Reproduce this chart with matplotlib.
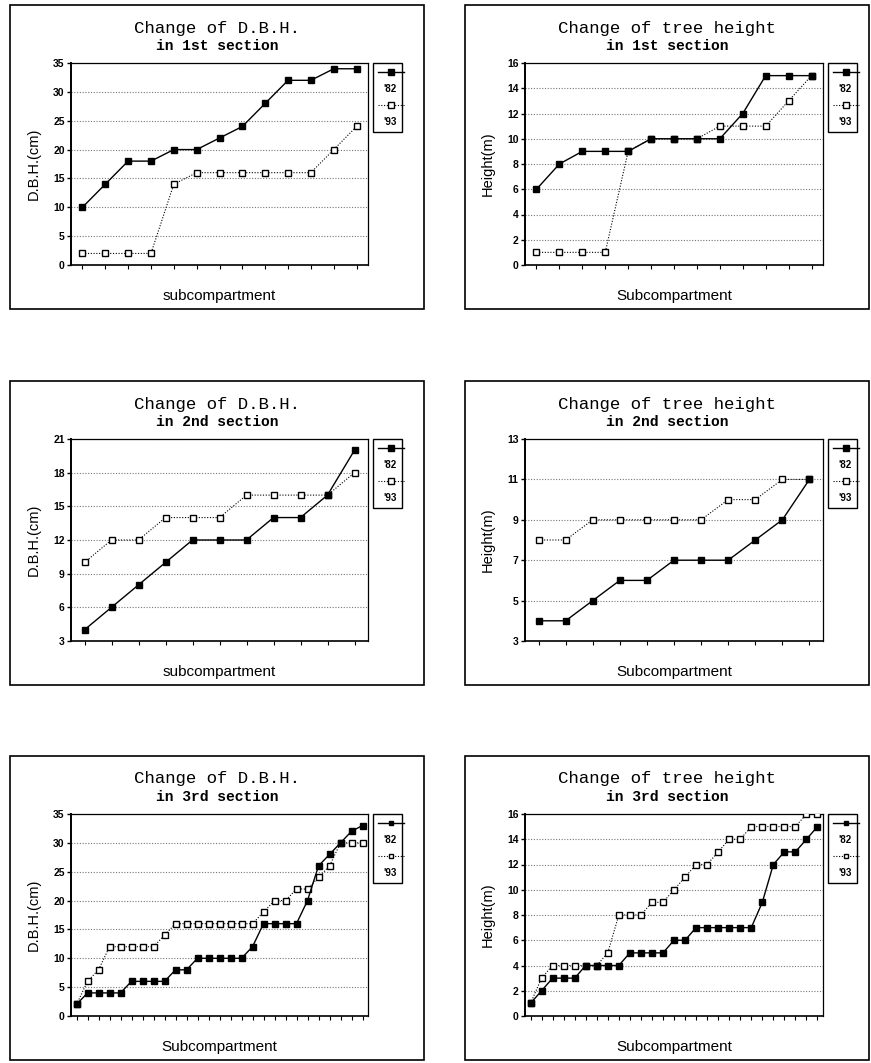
import matplotlib
matplotlib.use("Agg")
import matplotlib.pyplot as plt
from matplotlib.lines import Line2D
from matplotlib.patches import Rectangle

# ---- data ----
dbh1_82 = [10, 14, 18, 18, 20, 20, 22, 24, 28, 32, 32, 34, 34]
dbh1_93 = [2, 2, 2, 2, 14, 16, 16, 16, 16, 16, 16, 20, 24]
ht1_82 = [6, 8, 9, 9, 9, 10, 10, 10, 10, 12, 15, 15, 15]
ht1_93 = [1, 1, 1, 1, 9, 10, 10, 10, 11, 11, 11, 13, 15]

dbh2_82 = [4, 6, 8, 10, 12, 12, 12, 14, 14, 16, 20]
dbh2_93 = [10, 12, 12, 14, 14, 14, 16, 16, 16, 16, 18]
ht2_82 = [4, 4, 5, 6, 6, 7, 7, 7, 8, 9, 11]
ht2_93 = [8, 8, 9, 9, 9, 9, 9, 10, 10, 11, 11]

dbh3_82 = [2, 4, 4, 4, 4, 6, 6, 6, 6, 8, 8, 10, 10, 10, 10, 10, 12, 16, 16, 16, 16, 20, 26, 28, 30, 32, 33]
dbh3_93 = [2, 6, 8, 12, 12, 12, 12, 12, 14, 16, 16, 16, 16, 16, 16, 16, 16, 18, 20, 20, 22, 22, 24, 26, 30, 30, 30]
ht3_82 = [1, 2, 3, 3, 3, 4, 4, 4, 4, 5, 5, 5, 5, 6, 6, 7, 7, 7, 7, 7, 7, 9, 12, 13, 13, 14, 15]
ht3_93 = [1, 3, 4, 4, 4, 4, 4, 5, 8, 8, 8, 9, 9, 10, 11, 12, 12, 13, 14, 14, 15, 15, 15, 15, 15, 16, 16]

series_labels = ["'82", "'93"]
titles = ["Change of D.B.H.", "Change of tree height"]
subtitles = ["in 1st section", "in 2nd section", "in 3rd section"]
ylabels = ["D.B.H.(cm)", "Height(m)"]
xlabels = [["subcompartment", "Subcompartment"],
           ["subcompartment", "Subcompartment"],
           ["Subcompartment", "Subcompartment"]]
yticks_list = [[list(range(0, 36, 5)), list(range(0, 17, 2))],
               [list(range(3, 22, 3)), list(range(3, 14, 2))],
               [list(range(0, 36, 5)), list(range(0, 17, 2))]]
data = [[(dbh1_82, dbh1_93), (ht1_82, ht1_93)],
        [(dbh2_82, dbh2_93), (ht2_82, ht2_93)],
        [(dbh3_82, dbh3_93), (ht3_82, ht3_93)]]

# ---- layout (pixels) ----
W, H = 871, 1063
fig = plt.figure(figsize=(W / 100, H / 100), dpi=100)
fig.patch.set_facecolor("white")

box_tops = [5, 381, 756]
box_h = 304
box_x = [(10, 424), (465, 869)]
axis_x = [(71, 368), (525, 823)]
ax_top_off = 58
ax_bot_off = 260

mono = "Liberation Mono"
sans = "Liberation Sans"

def fx(px):
    return px / W

def fy(py):
    return 1 - py / H

for r in range(3):
    top = box_tops[r]
    for c in range(2):
        bx0, bx1 = box_x[c]
        fig.add_artist(Rectangle((fx(bx0), fy(top + box_h)), fx(bx1 - bx0), (box_h) / H,
                                 transform=fig.transFigure, fill=False, lw=1.2,
                                 edgecolor="black"))
        ax0, ax1 = axis_x[c]
        at, ab = top + ax_top_off, top + ax_bot_off
        ax = fig.add_axes([fx(ax0), fy(ab), fx(ax1 - ax0), (ab - at) / H])
        y82, y93 = data[r][c]
        n = len(y82)
        xs = list(range(1, n + 1))
        ms = 4.2 if n < 20 else 3.8
        l82, = ax.plot(xs, y82, color="black", lw=1.0, marker="s", ms=ms,
                       mfc="black", mec="black", zorder=4)
        l93, = ax.plot(xs, y93, color="black", lw=0.8, ls=(0, (1, 1.5)), marker="s", ms=ms,
                       mfc="white", mec="black", mew=1.0, zorder=3)
        yt = yticks_list[r][c]
        ax.set_ylim(yt[0], yt[-1])
        ax.set_xlim(0.5, n + 0.5)
        ax.set_yticks(yt)
        ax.set_xticks(xs)
        ax.set_xticklabels([])
        ax.yaxis.grid(True, ls=(0, (1, 1.5)), color="#777777", lw=0.8)
        ax.set_axisbelow(True)
        ax.tick_params(axis="y", direction="out", length=3, width=1, pad=1.5,
                       labelsize=7.5)
        ax.tick_params(axis="x", direction="out", length=3, width=0.8)
        for lab in ax.get_yticklabels():
            lab.set_fontfamily(sans)
            lab.set_fontweight("bold")
        for s in ax.spines.values():
            s.set_linewidth(0.9)
        ax.spines["left"].set_linewidth(1.4)
        ax.spines["bottom"].set_linewidth(1.2)
        ax.set_ylabel(ylabels[c], fontfamily=sans, fontsize=10.5, labelpad=9)
        ax.set_xlabel(xlabels[r][c], fontfamily=sans, fontsize=11, labelpad=11)

        # legend with handle above label
        blank = Line2D([], [], lw=0, marker=None)
        leg = ax.legend([l82, blank, l93, blank], ["", series_labels[0], "", series_labels[1]],
                        loc="upper left", bbox_to_anchor=(fx(ax1 + 5), fy(at)),
                        bbox_transform=fig.transFigure, borderaxespad=0,
                        prop={"family": sans, "weight": "bold", "size": 7},
                        handlelength=2.7, handletextpad=-2.1, labelspacing=0.65,
                        borderpad=0.5, fancybox=False, framealpha=1,
                        edgecolor="black", markerscale=0.9)
        leg.get_frame().set_linewidth(1.0)

        cx = (bx0 + bx1) / 2
        fig.text(fx(cx), fy(top + 23), titles[c], ha="center", va="center",
                 fontfamily=mono, fontsize=12.5)
        fig.text(fx(cx), fy(top + 41), subtitles[r], ha="center", va="center",
                 fontfamily=mono, fontsize=10.5, fontweight="bold")

fig.savefig("out.png", dpi=100)
